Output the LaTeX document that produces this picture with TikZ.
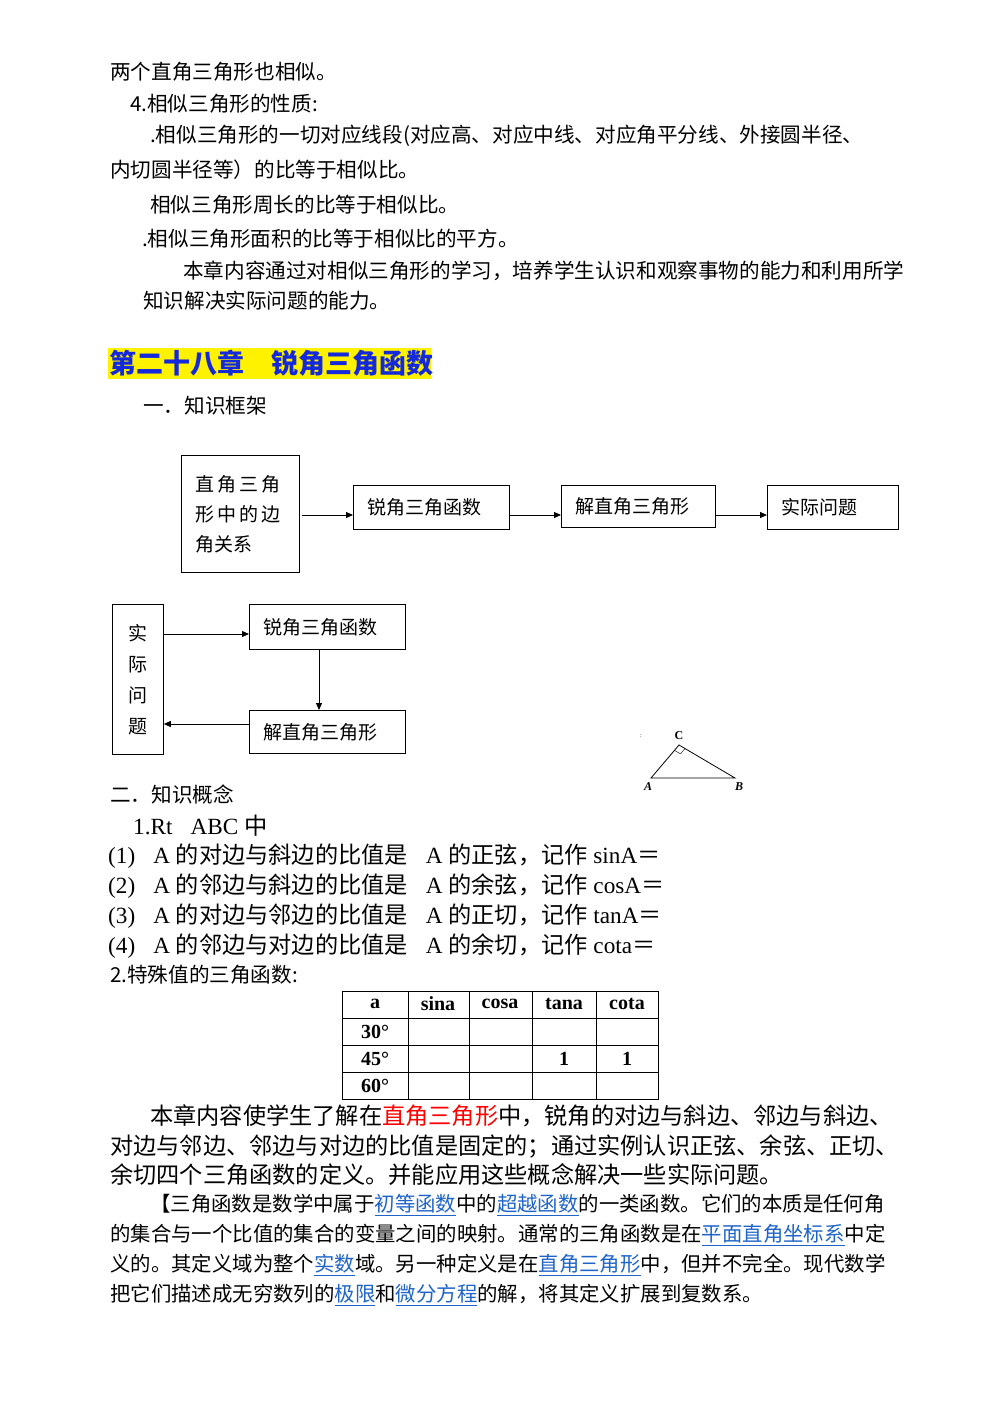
\documentclass[tikz,border=0pt]{standalone}
\usepackage{fontspec}
\setmainfont{Liberation Serif}
\newfontfamily\cjk{Noto Sans CJK SC}
\usetikzlibrary{arrows.meta,calc}
\definecolor{lnk}{RGB}{30,100,200}
\definecolor{hd}{RGB}{20,40,220}
\newcommand{\lk}[1]{\textcolor{lnk}{\underline{#1}}}
\begin{document}
\begin{tikzpicture}[x=1pt,y=-1pt,
  t/.style={anchor=west,inner sep=0pt,font=\cjk\fontsize{20.6}{24}\selectfont},
  tb/.style={anchor=west,inner sep=0pt,font=\cjk\fontsize{23.2}{26}\selectfont},
  ts/.style={anchor=west,inner sep=0pt,font=\rmfamily\fontsize{23.2}{26}\selectfont},
  tc/.style={anchor=west,inner sep=0pt,font=\cjk\fontsize{20.4}{24}\selectfont},
  bx/.style={draw,thick,inner ysep=0pt,inner xsep=14pt,align=left,font=\cjk\fontsize{19}{30}\selectfont},
  ar/.style={-{Triangle[length=7pt,width=6pt]},thick},
  cell/.style={inner sep=0pt,font=\bfseries\fontsize{20}{24}\selectfont}]
\useasboundingbox (0,0) rectangle (1000,1412);
\fill[white] (0,0) rectangle (1000,1412);
\node[t] (l1) at (110,72) {两个直角三角形也相似。};
\node[t] (l2) at (130,104) {4.相似三角形的性质:};
\node[t] (l3) at (150,136) {.相似三角形的一切对应线段(对应高、对应中线、对应角平分线、外接圆半径、};
\node[t] (l4) at (110,170) {内切圆半径等）的比等于相似比。};
\node[t] (l5) at (150,205) {相似三角形周长的比等于相似比。};
\node[t] (l6) at (142,239) {.相似三角形面积的比等于相似比的平方。};
\node[t] (l7) at (183,271) {本章内容通过对相似三角形的学习，培养学生认识和观察事物的能力和利用所学};
\node[t] (l8) at (143,301) {知识解决实际问题的能力。};
\fill[yellow] (108,348) rectangle (431,379);
\node[t,font=\cjk\bfseries\fontsize{27}{30}\selectfont,text=hd] (hd) at (109,363) {第二十八章\hspace{27pt}锐角三角函数};
\node[t] (s1) at (143,406) {一．知识框架};
% frame 1
\node[bx,minimum width=116pt,minimum height=117pt,anchor=north west,text width=90pt] (b1) at (181,455) {直\,角\,三\,角\\形\,中\,的\,边\\角关系};
\node[bx,minimum width=156pt,minimum height=44pt,anchor=north west,text width=128pt] (b2) at (353,485) {锐角三角函数};
\node[bx,minimum width=154pt,minimum height=42pt,anchor=north west,text width=126pt] (b3) at (561,485) {解直角三角形};
\node[bx,minimum width=131pt,minimum height=44pt,anchor=north west,text width=103pt] (b4) at (767,485) {实际问题};
\draw[ar] (302,515) -- (b2.west|-0,515);
\draw[ar] (b2.east|-0,515) -- (b3.west|-0,515);
\draw[ar] (b3.east|-0,515) -- (b4.west|-0,515);
% frame 2
\node[bx,minimum width=51pt,minimum height=150pt,anchor=north west,align=center,inner xsep=0pt,text width=51pt,font=\cjk\fontsize{19}{31}\selectfont] (b5) at (112,604) {实\\际\\问\\题};
\node[bx,minimum width=156pt,minimum height=45pt,anchor=north west,text width=128pt] (b6) at (249,604) {锐角三角函数};
\node[bx,minimum width=156pt,minimum height=43pt,anchor=north west,text width=128pt] (b7) at (249,710) {解直角三角形};
\draw[ar] (b5.east|-0,634) -- (b6.west|-0,634);
\draw[ar] (b6.south-|319,0) -- (b7.north-|319,0);
\draw[ar] (b7.west|-0,724) -- (b5.east|-0,724);
% triangle
\coordinate (A) at (651,778); \coordinate (C) at (679,745); \coordinate (B) at (735,778);
\draw[thick] (A) -- (C) -- (B) -- cycle;
\draw ($(C)!7pt!(A)$) -- ($(C)!7pt!(A)+(C)!7pt!(B)-(C)$) -- ($(C)!7pt!(B)$);
\node[inner sep=0pt,font=\itshape\bfseries\fontsize{12}{14}\selectfont] (la) at (648,787) {A};
\node[inner sep=0pt,font=\itshape\bfseries\fontsize{12}{14}\selectfont] (lb) at (739,787) {B};
\node[inner sep=0pt,font=\bfseries\fontsize{12}{14}\selectfont] (lc) at (679,736) {C};
\node[inner sep=0pt,font=\fontsize{6}{7}\selectfont] (dt) at (641,736) {:};
\node[t] (s2) at (110,795) {二．知识概念};
\node[ts] (r0) at (133,826) {1.Rt△ABC {\cjk 中}};
\node[ts] (r1) at (108,856) {(1)∠A {\cjk 的对边与斜边的比值是}∠A {\cjk 的正弦，记作} sinA{\cjk ＝}};
\node[ts] (r2) at (108,886) {(2)∠A {\cjk 的邻边与斜边的比值是}∠A {\cjk 的余弦，记作} cosA{\cjk ＝}};
\node[ts] (r3) at (108,916) {(3)∠A {\cjk 的对边与邻边的比值是}∠A {\cjk 的正切，记作} tanA{\cjk ＝}};
\node[ts] (r4) at (108,946) {(4)∠A {\cjk 的邻边与对边的比值是}∠A {\cjk 的余切，记作} cota{\cjk ＝}};
\node[t] (s3) at (110,975) {2.特殊值的三角函数:};
% table
\draw[thick] (342,991) rectangle (658,1099);
\foreach \yy in {1018,1045,1072} \draw[thick] (342,\yy) -- (658,\yy);
\foreach \xx in {408,469,532,596} \draw[thick] (\xx,991) -- (\xx,1099);
\node[cell] (c00) at (375,1004) {a};
\node[cell] (c01) at (438,1004) {sina};
\node[cell] (c02) at (500,1004) {cosa};
\node[cell] (c03) at (564,1004) {tana};
\node[cell] (c04) at (627,1004) {cota};
\node[cell] (c10) at (375,1032) {30°};
\node[cell] (c20) at (375,1059) {45°};
\node[cell] (c30) at (375,1086) {60°};
\node[cell] (c23) at (564,1059) {1};
\node[cell] (c24) at (627,1059) {1};
\node[tb] (p1) at (150,1116) {本章内容使学生了解在\textcolor{red}{直角三角形}中，锐角的对边与斜边、邻边与斜边、};
\node[tb] (p2) at (110,1146) {对边与邻边、邻边与对边的比值是固定的；通过实例认识正弦、余弦、正切、};
\node[tb] (p3) at (110,1175) {余切四个三角函数的定义。并能应用这些概念解决一些实际问题。};
\node[tc] (q1) at (150,1205) {【三角函数是数学中属于\lk{初等函数}中的\lk{超越函数}的一类函数。它们的本质是任何角};
\node[tc] (q2) at (110,1235) {的集合与一个比值的集合的变量之间的映射。通常的三角函数是在\lk{平面直角坐标系}中定};
\node[tc] (q3) at (110,1265) {义的。其定义域为整个\lk{实数}域。另一种定义是在\lk{直角三角形}中，但并不完全。现代数学};
\node[tc] (q4) at (110,1295) {把它们描述成无穷数列的\lk{极限}和\lk{微分方程}的解，将其定义扩展到复数系。};
\end{tikzpicture}
\end{document}
